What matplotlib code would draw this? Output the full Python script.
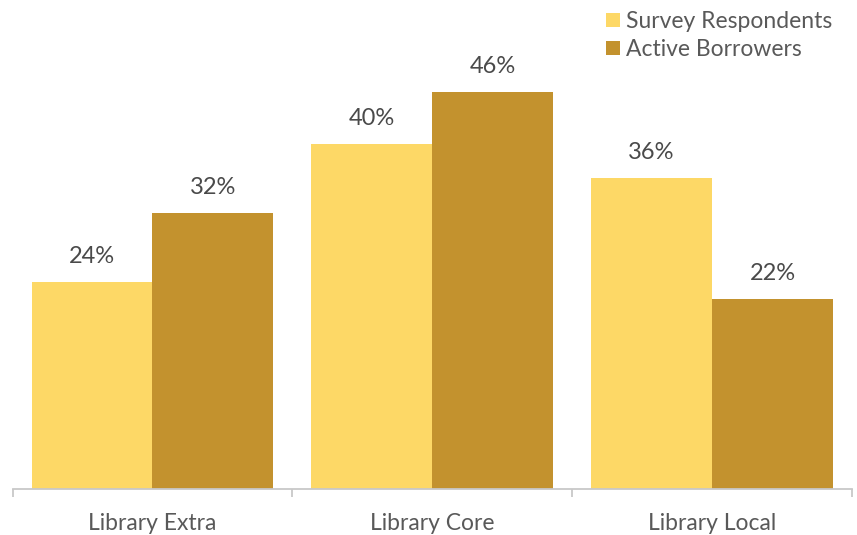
import matplotlib
matplotlib.use("Agg")
import matplotlib.pyplot as plt
import numpy as np

categories = ["Library Extra", "Library Core", "Library Local"]
survey_respondents = [24, 40, 36]
active_borrowers = [32, 46, 22]
series_names = ["Survey Respondents", "Active Borrowers"]

light_gold = "#FDD866"
dark_gold = "#C3922E"
text_grey = "#595959"

plt.rcParams["font.family"] = ["Lato", "DejaVu Sans"]

fig = plt.figure(figsize=(8.57, 5.35), dpi=100)
W, H = 857, 535
ax_left, ax_right = 12.5, 852
ax_bottom, ax_top = 489, 57.5
ax = fig.add_axes([ax_left / W, (H - ax_bottom) / H,
                   (ax_right - ax_left) / W, (ax_bottom - ax_top) / H])

x = np.arange(len(categories))
bw = 0.432
b1 = ax.bar(x - bw / 2, survey_respondents, bw, color=light_gold, label=series_names[0])
b2 = ax.bar(x + bw / 2, active_borrowers, bw, color=dark_gold, label=series_names[1])

for bars, vals in ((b1, survey_respondents), (b2, active_borrowers)):
    for rect, v in zip(bars, vals):
        ax.annotate(f"{v}%", (rect.get_x() + rect.get_width() / 2, v),
                    xytext=(0, 15), textcoords="offset pixels",
                    ha="center", va="bottom", fontsize=17, color="#4a4a4a")

ax.set_xlim(-0.5, 2.5)
ax.set_ylim(0, 50)
for s in ("top", "right", "left"):
    ax.spines[s].set_visible(False)
ax.spines["bottom"].set_color("#C8C8C8")
ax.spines["bottom"].set_linewidth(1.3)
ax.set_yticks([])

ax.set_xticks([-0.5, 0.5, 1.5, 2.5])
ax.set_xticklabels([])
ax.tick_params(axis="x", which="major", length=6, width=1.3, color="#C8C8C8")
ax.set_xticks(x, minor=True)
ax.set_xticklabels(categories, minor=True, fontsize=16.5, color=text_grey)
ax.tick_params(axis="x", which="minor", length=0, pad=17)

leg = fig.legend(handles=[b1, b2], loc="upper left",
                 bbox_to_anchor=(597 / W, 1 - 2 / H), frameon=False,
                 fontsize=16.5, handlelength=0.6, handleheight=0.6,
                 handletextpad=0.25, labelspacing=0.3, borderaxespad=0)
for t in leg.get_texts():
    t.set_color(text_grey)

fig.savefig("out.png", dpi=100)
